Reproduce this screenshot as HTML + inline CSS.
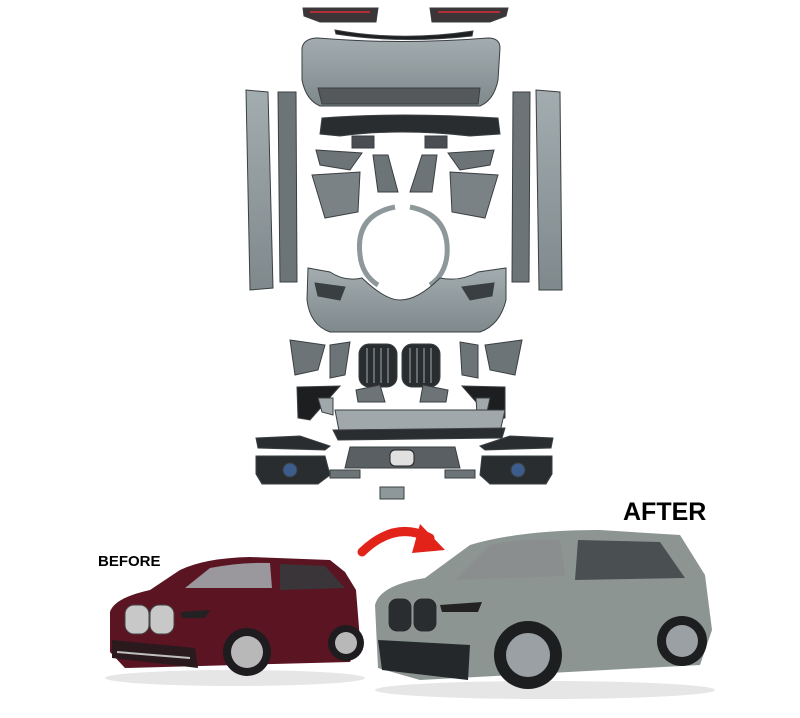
<!DOCTYPE html>
<html><head><style>
html,body{margin:0;padding:0;background:#fff;width:800px;height:718px;overflow:hidden}
svg{display:block}
text{font-family:"Liberation Sans",sans-serif;font-weight:bold}
</style></head><body>
<svg width="800" height="718" viewBox="0 0 800 718" xmlns="http://www.w3.org/2000/svg">
<defs>
<linearGradient id="pg" x1="0" y1="0" x2="0" y2="1"><stop offset="0" stop-color="#a3adb0"/><stop offset="1" stop-color="#7f898c"/></linearGradient>
</defs>
<g stroke="#3a3f42" stroke-width="1">
<path d="M303 8 L378 8 L376 22 L320 22 L304 16Z" fill="#3b3537"/>
<path d="M310 12 L370 12" stroke="#b0303a" stroke-width="2"/>
<path d="M430 8 L508 8 L506 16 L490 22 L432 22Z" fill="#3b3537"/>
<path d="M438 12 L500 12" stroke="#b0303a" stroke-width="2"/>
<path d="M335 30 Q400 42 473 31 L472 36 Q400 44 336 34Z" fill="#1c1e20"/>
<path d="M302 48 Q304 38 318 38 Q400 45 488 38 Q500 38 500 48 L498 80 Q494 100 480 106 L320 106 Q306 100 302 80Z" fill="url(#pg)"/>
<path d="M318 88 L480 88 L478 104 L322 104Z" fill="#55595c"/>
<path d="M246 90 L268 92 L273 288 L250 290 Z" fill="url(#pg)"/>
<path d="M278 92 L296 92 L297 282 L280 282 Z" fill="#6d7478"/>
<path d="M513 92 L530 92 L529 282 L512 282 Z" fill="#6d7478"/>
<path d="M536 90 L560 92 L562 290 L539 290 Z" fill="url(#pg)"/>
<path d="M322 118 Q400 112 498 118 L500 134 L470 136 Q400 128 340 136 L320 134Z" fill="#2a2d30"/>
<rect x="352" y="136" width="22" height="12" fill="#4a4e52"/>
<rect x="425" y="136" width="22" height="12" fill="#4a4e52"/>
<path d="M316 150 L362 153 L350 170 L320 165Z" fill="#6d7478"/>
<path d="M448 153 L494 150 L490 165 L460 170Z" fill="#6d7478"/>
<path d="M312 175 L360 172 L358 212 L325 218Z" fill="#7a8286"/>
<path d="M450 172 L498 175 L485 218 L452 212Z" fill="#7a8286"/>
<path d="M373 155 L388 155 L398 192 L378 192Z" fill="#6d7478"/>
<path d="M422 155 L437 155 L432 192 L410 192Z" fill="#6d7478"/>
<path d="M395 207 Q355 215 360 255 Q362 275 378 285" fill="none" stroke="#8e989b" stroke-width="5"/>
<path d="M410 207 Q450 215 447 255 Q445 275 430 285" fill="none" stroke="#8e989b" stroke-width="5"/>
<path d="M308 268 L330 272 Q345 282 362 278 Q385 300 400 300 Q418 300 440 278 Q460 282 478 272 L506 268 L506 300 Q500 325 480 332 L330 332 Q310 325 307 300Z" fill="url(#pg)"/>
<path d="M315 283 L345 287 L340 300 L318 296Z" fill="#3a3f42"/>
<path d="M462 287 L494 283 L492 296 L470 300Z" fill="#3a3f42"/>
<path d="M290 340 L325 345 L318 370 L295 375Z" fill="#6d7478"/>
<path d="M330 345 L350 342 L345 375 L330 378Z" fill="#6d7478"/>
<path d="M460 342 L478 345 L478 378 L462 375Z" fill="#6d7478"/>
<path d="M485 345 L522 340 L515 375 L490 370Z" fill="#6d7478"/>
<rect x="359" y="344" width="38" height="43" rx="10" fill="#2a2d30"/>
<rect x="402" y="344" width="38" height="43" rx="10" fill="#2a2d30"/>
<path d="M367 348 V383 M374 348 V383 M381 348 V383 M388 348 V383 M410 348 V383 M417 348 V383 M424 348 V383 M431 348 V383" stroke="#7b8084" stroke-width="1.5"/>
<path d="M297 387 L340 386 L310 420 L298 418Z" fill="#1c1e20"/>
<path d="M462 386 L505 387 L505 418 L492 420Z" fill="#1c1e20"/>
<path d="M318 398 L333 398 L333 415 L322 412Z" fill="#a0a8ab"/>
<path d="M476 398 L490 398 L487 412 L477 415Z" fill="#a0a8ab"/>
<path d="M356 390 L380 385 L385 402 L358 402Z" fill="#6d7478"/>
<path d="M423 385 L448 390 L446 402 L420 402Z" fill="#6d7478"/>
<path d="M335 410 L505 410 L500 432 L340 436Z" fill="#a0a8ab"/>
<path d="M333 430 L505 428 L502 438 L338 440Z" fill="#2a2d30"/>
<path d="M256 438 L300 436 L330 446 L325 450 L258 448Z" fill="#2a2d30"/>
<path d="M480 446 L510 436 L553 438 L551 448 L485 450Z" fill="#2a2d30"/>
<path d="M256 456 L325 456 L330 475 L318 484 L262 484 L256 474Z" fill="#2a2d30"/>
<path d="M482 456 L552 456 L552 474 L546 484 L490 484 L480 475Z" fill="#2a2d30"/>
<circle cx="290" cy="470" r="7" fill="#3c5c8c"/>
<circle cx="518" cy="470" r="7" fill="#3c5c8c"/>
<path d="M350 447 L455 447 L460 468 L345 468Z" fill="#5a5f63"/>
<rect x="390" y="450" width="24" height="16" rx="5" fill="#e0e0e0" stroke="#222"/>
<rect x="330" y="470" width="30" height="8" fill="#6d7478"/>
<rect x="445" y="470" width="30" height="8" fill="#6d7478"/>
<rect x="380" y="487" width="24" height="12" fill="#8e989b"/>
</g>

<path d="M362 552 Q395 520 430 538" fill="none" stroke="#e2231a" stroke-width="9" stroke-linecap="round"/>
<path d="M420 524 L445 550 L412 553Z" fill="#e2231a"/>

<text x="98" y="566" font-size="15" fill="#000">BEFORE</text>
<text x="623" y="520" font-size="25" fill="#000">AFTER</text>

<!-- before car -->
<g>
<ellipse cx="235" cy="678" rx="130" ry="8" fill="#e6e6e6"/>
<path d="M110 612 Q114 598 150 590 L180 570 Q205 558 250 557 L330 560 L345 572 L356 590 L360 640 L350 662 L125 668 L110 652Z" fill="#5b1422"/>
<path d="M185 588 L210 568 Q240 562 270 563 L272 588Z" fill="#9a989c"/>
<path d="M280 564 L325 566 L345 588 L280 590Z" fill="#3a3538"/>
<path d="M112 640 L195 648 L198 668 L112 658Z" fill="#2a1a1e"/>
<path d="M117 652 L190 658" stroke="#c0c0c0" stroke-width="2"/>
<rect x="125" y="605" width="24" height="29" rx="9" fill="#c8c8c8" stroke="#444"/>
<rect x="150" y="605" width="24" height="29" rx="9" fill="#c8c8c8" stroke="#444"/>
<path d="M180 612 L210 610 L205 618 L182 618Z" fill="#222"/>
<circle cx="247" cy="652" r="24" fill="#1e1c1e"/><circle cx="247" cy="652" r="16" fill="#b8b8b8"/>
<circle cx="346" cy="643" r="18" fill="#1e1c1e"/><circle cx="346" cy="643" r="11" fill="#b8b8b8"/>
</g>
<!-- after car -->
<g>
<ellipse cx="545" cy="690" rx="170" ry="9" fill="#e6e6e6"/>
<path d="M375 605 Q380 585 425 578 L470 545 Q520 530 600 530 L680 535 L705 575 L712 630 L700 665 L420 680 L378 668 Z" fill="#8c9592"/>
<path d="M470 565 L490 545 Q520 538 560 540 L565 576 L455 580Z" fill="#8b8e8f"/>
<path d="M578 540 L660 542 L685 578 L575 580Z" fill="#4a4f52"/>
<path d="M378 640 L470 645 L468 680 L382 670Z" fill="#25282a"/>
<rect x="388" y="598" width="24" height="34" rx="9" fill="#2a2d30" stroke="#999"/>
<rect x="413" y="598" width="24" height="34" rx="9" fill="#2a2d30" stroke="#999"/>
<path d="M440 605 L482 602 L478 612 L442 612Z" fill="#222"/>
<circle cx="528" cy="655" r="34" fill="#1c1e20"/><circle cx="528" cy="655" r="22" fill="#9aa0a4"/>
<circle cx="682" cy="641" r="25" fill="#1c1e20"/><circle cx="682" cy="641" r="16" fill="#9aa0a4"/>
</g>
</svg>
</body></html>
